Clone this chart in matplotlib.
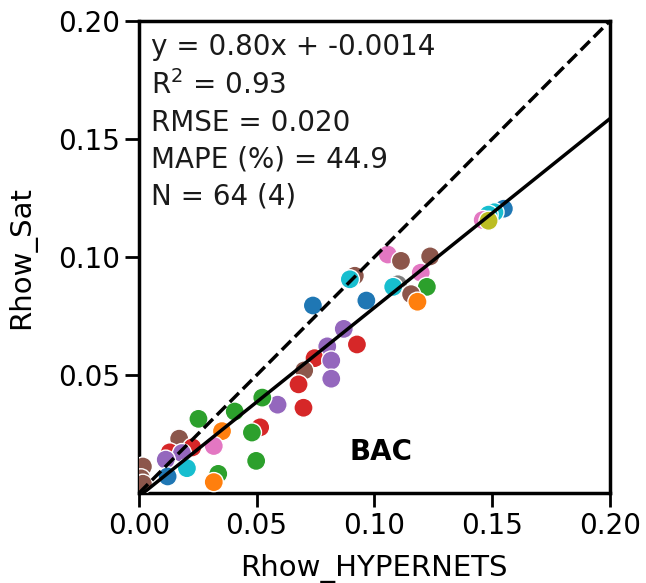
import numpy as np
import matplotlib.pyplot as plt

# matchups (HYPERNETS vs satellite), coloured by group
rhow_hyp = [0.155, 0.151, 0.1485, 0.146, 0.1485, 0.1057, 0.1113, 0.1237, 0.1197,
            0.0917, 0.0896, 0.110, 0.108, 0.1223, 0.1156, 0.1183, 0.0966, 0.0739,
            0.087, 0.0926, 0.080, 0.0746, 0.0817, 0.0702, 0.0678, 0.0817, 0.0699,
            0.0589, 0.0524, 0.0407, 0.0515, 0.048, 0.0498, 0.0253, 0.0353, 0.0318,
            0.0171, 0.0227, 0.0131, 0.0183, 0.0114, 0.0204, 0.0122, 0.0337, 0.0318,
            0.0017, 0.0009, 0.0017]
rhow_sat = [0.1205, 0.119, 0.118, 0.1157, 0.1154, 0.1011, 0.0984, 0.1003, 0.0934,
            0.0921, 0.0906, 0.0885, 0.0874, 0.0874, 0.0843, 0.0811, 0.0816, 0.0795,
            0.0696, 0.063, 0.0622, 0.0572, 0.0562, 0.052, 0.0461, 0.0485, 0.0362,
            0.0375, 0.0405, 0.0346, 0.0279, 0.0257, 0.0137, 0.0315, 0.0263, 0.020,
            0.0231, 0.0194, 0.0173, 0.017, 0.0142, 0.0106, 0.0071, 0.0082, 0.0047,
            0.0113, 0.0063, 0.004]
group = ['blue', 'cyan', 'cyan', 'pink', 'olive', 'pink', 'brown', 'brown', 'pink',
         'brown', 'cyan', 'gray', 'cyan', 'green', 'brown', 'orange', 'blue', 'blue',
         'purple', 'red', 'purple', 'red', 'purple', 'brown', 'red', 'purple', 'red',
         'purple', 'green', 'green', 'red', 'green', 'green', 'green', 'orange', 'pink',
         'brown', 'red', 'red', 'purple', 'purple', 'cyan', 'blue', 'green', 'orange',
         'brown', 'brown', 'brown']

slope = 0.80
intercept = -0.0014
stats_text = 'y = 0.80x + -0.0014\nR$^2$ = 0.93\nRMSE = 0.020\nMAPE (%) = 44.9\nN = 64 (4)'

palette = {'blue': 'tab:blue', 'orange': 'tab:orange', 'green': 'tab:green',
           'red': 'tab:red', 'purple': 'tab:purple', 'brown': 'tab:brown',
           'pink': 'tab:pink', 'gray': 'tab:gray', 'olive': 'tab:olive',
           'cyan': 'tab:cyan'}

fig = plt.figure(figsize=(6.46, 5.83), dpi=100)
ax = fig.add_axes([0.215, 0.154, 0.729, 0.810])

ax.scatter(rhow_hyp, rhow_sat, c=[palette[g] for g in group], s=190,
           edgecolors='white', linewidths=1.0, zorder=3)

xx = np.array([0.0, 0.2])
ax.plot(xx, xx, 'k--', lw=2.5, zorder=4)
ax.plot(xx, slope * xx + intercept, 'k-', lw=2.5, zorder=4)

ax.set_xlim(0, 0.2)
ax.set_ylim(0, 0.2)
ax.set_xticks([0.0, 0.05, 0.10, 0.15, 0.20])
ax.set_yticks([0.05, 0.10, 0.15, 0.20])
ax.tick_params(labelsize=20, length=10, width=2)
for s in ax.spines.values():
    s.set_linewidth(2.5)

ax.set_xlabel('Rhow_HYPERNETS', fontsize=21, labelpad=10)
ax.set_ylabel('Rhow_Sat', fontsize=21, labelpad=16)

ax.text(0.025, 0.975, stats_text, transform=ax.transAxes, fontsize=20,
        va='top', ha='left', linespacing=1.4, color='#1a1a1a')
ax.text(0.103, 0.0175, 'BAC', fontsize=20, fontweight='bold', ha='center', va='center')

plt.savefig('out.png', dpi=100)
